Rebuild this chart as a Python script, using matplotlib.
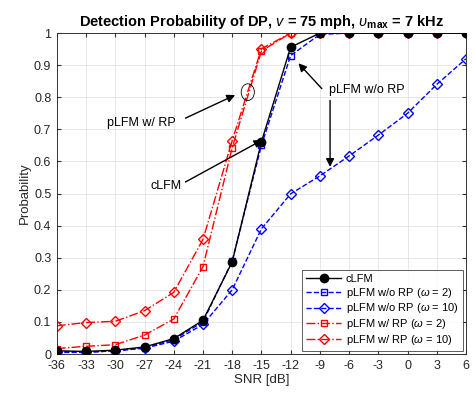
import numpy as np
import matplotlib

matplotlib.use('Agg')

import matplotlib.pyplot as plt
from matplotlib.patches import Ellipse

plt.rcParams['font.family'] = ['Liberation Sans', 'DejaVu Sans']
plt.rcParams['mathtext.fontset'] = 'custom'
plt.rcParams['mathtext.rm'] = 'Liberation Sans'
plt.rcParams['mathtext.it'] = 'Liberation Sans:italic'
plt.rcParams['mathtext.bf'] = 'Liberation Sans:bold'
plt.rcParams['axes.unicode_minus'] = False

# SNR axis
snr = [-36, -33, -30, -27, -24, -21, -18, -15, -12, -9, -6, -3, 0, 3, 6]

# detection probabilities
clfm = [0.010, 0.008, 0.012, 0.022, 0.048, 0.105, 0.287, 0.661, 0.956,
        1.0, 1.0, 1.0, 1.0, 1.0, 1.0]
wo_rp_w2 = [0.008, 0.006, 0.010, 0.020, 0.045, 0.100, 0.290, 0.650, 0.930,
            0.996, 1.0, 1.0, 1.0, 1.0, 1.0]
wo_rp_w10 = [0.005, 0.005, 0.010, 0.018, 0.040, 0.092, 0.200, 0.390, 0.499,
             0.555, 0.617, 0.682, 0.750, 0.840, 0.920]
w_rp_w2 = [0.017, 0.024, 0.029, 0.059, 0.109, 0.272, 0.643, 0.944, 1.0,
           1.0, 1.0, 1.0, 1.0, 1.0, 1.0]
w_rp_w10 = [0.088, 0.098, 0.102, 0.135, 0.192, 0.357, 0.665, 0.951, 1.0,
            1.0, 1.0, 1.0, 1.0, 1.0, 1.0]

fig = plt.figure(figsize=(4.74, 3.94), dpi=100)
ax = fig.add_axes([0.120, 0.1015, 0.863, 0.8145])

ax.plot(snr, clfm, '-', color='k', marker='o', markersize=6, lw=1,
        markerfacecolor='k', label='cLFM', zorder=5)
ax.plot(snr, wo_rp_w2, '--', color='b', marker='s', markersize=5, lw=1,
        markerfacecolor='none', label=r'pLFM w/o RP ($\omega$ = 2)')
ax.plot(snr, wo_rp_w10, '--', color='b', marker='D', markersize=5, lw=1,
        markerfacecolor='none', label=r'pLFM w/o RP ($\omega$ = 10)')
ax.plot(snr, w_rp_w2, '-.', color='r', marker='s', markersize=5, lw=1,
        markerfacecolor='none', label=r'pLFM w/ RP ($\omega$ = 2)')
ax.plot(snr, w_rp_w10, '-.', color='r', marker='D', markersize=5, lw=1,
        markerfacecolor='none', label=r'pLFM w/ RP ($\omega$ = 10)')

ax.set_xlim(-36, 6)
ax.set_ylim(0, 1)
ax.set_xticks(np.arange(-36, 7, 3))
ax.set_yticks(np.arange(0, 1.01, 0.1))
ax.set_yticklabels(['0', '0.1', '0.2', '0.3', '0.4', '0.5', '0.6', '0.7',
                    '0.8', '0.9', '1'])
ax.tick_params(direction='in', labelsize=9, length=3, top=True, right=True,
               labeltop=False, labelright=False, color='#333333',
               labelcolor='#262626', pad=4)
ax.grid(True, color='#e3e3e3', lw=0.6)
ax.set_axisbelow(True)
for s in ax.spines.values():
    s.set_color('#333333')
    s.set_linewidth(0.7)

ax.set_xlabel('SNR [dB]', fontsize=9.5, labelpad=2, color='#262626')
ax.set_ylabel('Probability', fontsize=9.5, labelpad=2, color='#262626')
ax.set_title(r'Detection Probability of DP, $\mathbf{\mathit{v}}$ = 75 mph, '
             r'$\upsilon_{\mathbf{max}}$ = 7 kHz',
             fontsize=10.5, fontweight='bold', pad=5)

# annotations
arw = dict(arrowstyle='-|>', color='k', lw=1, mutation_scale=12,
           shrinkA=0, shrinkB=0)
ax.add_patch(Ellipse((-16.4, 0.816), 1.35, 0.052, fill=False,
                     edgecolor='k', lw=0.6, zorder=6))
ax.text(-27.3, 0.72, 'pLFM w/ RP', fontsize=9, ha='center', va='center')
ax.annotate('', xy=(-17.7, 0.807), xytext=(-22.8, 0.735), arrowprops=arw)
ax.text(-24.8, 0.523, 'cLFM', fontsize=9, ha='center', va='center')
ax.annotate('', xy=(-14.9, 0.667), xytext=(-22.8, 0.536), arrowprops=arw)
ax.text(-4.2, 0.822, 'pLFM w/o RP', fontsize=9, ha='center', va='center')
ax.annotate('', xy=(-11.2, 0.906), xytext=(-8.8, 0.827), arrowprops=arw)
ax.annotate('', xy=(-7.95, 0.583), xytext=(-7.95, 0.79), arrowprops=arw)

leg = ax.legend(loc='lower right', fontsize=8, frameon=True, fancybox=False,
                edgecolor='#333333', borderaxespad=0.3, handlelength=3.2,
                labelspacing=0.15, borderpad=0.35, handletextpad=0.4)
leg.get_frame().set_linewidth(0.7)

plt.savefig('out.png', dpi=100)
